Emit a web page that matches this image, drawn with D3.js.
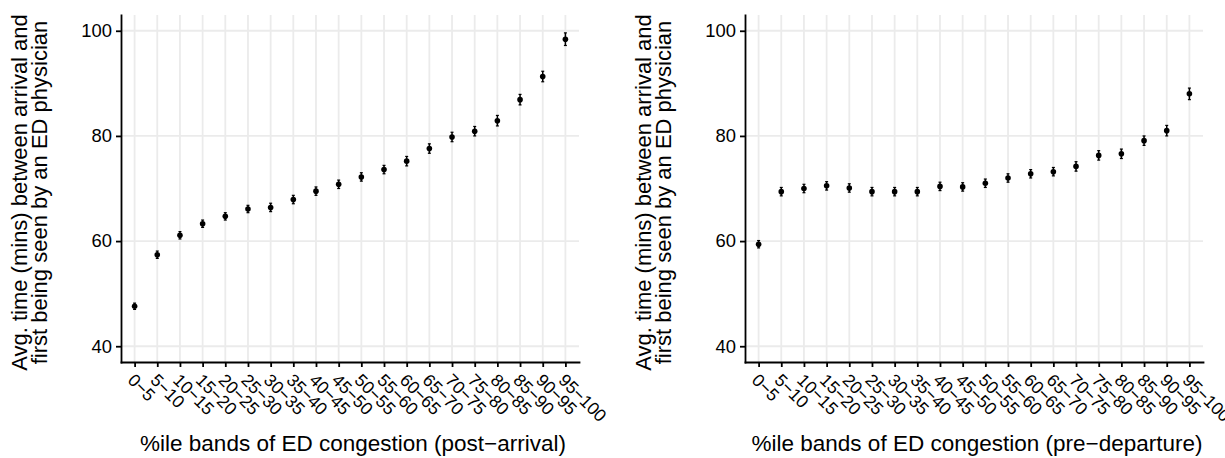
<!DOCTYPE html>
<html lang="en">
<head>
  <meta charset="UTF-8">
  <title>ED congestion and time to physician</title>
  <style>
    body {
      margin: 0;
      padding: 0;
      background: #ffffff;
      font-family: "Liberation Sans", Arial, sans-serif;
    }
    .grid line {
      stroke: #ebebeb;
      stroke-width: 1.8;
    }
    .axis path, .axis line {
      stroke: #000;
      stroke-width: 1.8;
    }
    .axis text {
      fill: #000;
      font-family: "Liberation Sans", Arial, sans-serif;
    }
    .title {
      fill: #000;
    }
  </style>
</head>
<body>
  <div id="chart"></div>
  <script src="https://d3js.org/d3.v7.min.js"></script>
  <script>
    const bands = ["0\u22125", "5\u221210", "10\u221215", "15\u221220", "20\u221225", "25\u221230",
      "30\u221235", "35\u221240", "40\u221245", "45\u221250", "50\u221255", "55\u221260",
      "60\u221265", "65\u221270", "70\u221275", "75\u221280", "80\u221285", "85\u221290",
      "90\u221295", "95\u2212100"];

    // mean wait (mins) and half-width of the interval, per band
    const postArrival = [47.6, 57.4, 61.1, 63.3, 64.7, 66.1, 66.4, 67.9, 69.5, 70.8,
      72.2, 73.6, 75.2, 77.6, 79.8, 80.9, 82.9, 86.9, 91.3, 98.4];
    const postArrivalErr = [0.6, 0.7, 0.7, 0.7, 0.7, 0.7, 0.8, 0.8, 0.8, 0.8,
      0.8, 0.8, 0.9, 0.9, 0.9, 0.9, 1.0, 1.0, 1.0, 1.2];
    const preDeparture = [59.4, 69.4, 70.0, 70.5, 70.1, 69.4, 69.4, 69.4, 70.4, 70.3,
      71.0, 72.0, 72.8, 73.2, 74.2, 76.3, 76.6, 79.1, 81.0, 88.0];
    const preDepartureErr = [0.7, 0.8, 0.8, 0.8, 0.8, 0.8, 0.8, 0.8, 0.8, 0.8,
      0.8, 0.8, 0.8, 0.8, 0.9, 0.9, 0.9, 0.9, 1.0, 1.1];

    const yTicks = [40, 60, 80, 100];
    const yTitle = ["Avg. time (mins) between arrival and", "first being seen by an ED physician"];

    const width = 1225;
    const height = 458;

    const panels = [
      { left: 121, right: 579, values: postArrival, errs: postArrivalErr,
        xTitle: "%ile bands of ED congestion (post\u2212arrival)" },
      { left: 745, right: 1203, values: preDeparture, errs: preDepartureErr,
        xTitle: "%ile bands of ED congestion (pre\u2212departure)" }
    ];

    const plotTop = 15, plotBottom = 362;

    const svg = d3.select("#chart")
      .append("svg")
      .attr("width", width)
      .attr("height", height);

    const y = d3.scaleLinear().domain([37, 103]).range([plotBottom, plotTop]);

    panels.forEach(p => {
      const x = d3.scalePoint().domain(bands).range([p.left, p.right]).padding(0.6);
      const g = svg.append("g");

      // grid
      const grid = g.append("g").attr("class", "grid");
      grid.selectAll(".gx")
        .data(bands)
        .enter().append("line")
        .attr("x1", d => x(d)).attr("x2", d => x(d))
        .attr("y1", plotTop).attr("y2", plotBottom);
      grid.selectAll(".gy")
        .data(yTicks)
        .enter().append("line")
        .attr("x1", p.left).attr("x2", p.right)
        .attr("y1", d => y(d)).attr("y2", d => y(d));

      // error bars + points
      const pts = p.values.map((v, i) => ({ band: bands[i], v: v, e: p.errs[i] }));
      const marks = g.append("g");
      marks.selectAll(".eb")
        .data(pts)
        .enter().append("line")
        .attr("x1", d => x(d.band)).attr("x2", d => x(d.band))
        .attr("y1", d => y(d.v - d.e)).attr("y2", d => y(d.v + d.e))
        .attr("stroke", "#000").attr("stroke-width", 1.5);
      marks.selectAll(".capT")
        .data(pts)
        .enter().append("line")
        .attr("x1", d => x(d.band) - 1.5).attr("x2", d => x(d.band) + 1.5)
        .attr("y1", d => y(d.v + d.e)).attr("y2", d => y(d.v + d.e))
        .attr("stroke", "#000").attr("stroke-width", 1.2);
      marks.selectAll(".capB")
        .data(pts)
        .enter().append("line")
        .attr("x1", d => x(d.band) - 1.5).attr("x2", d => x(d.band) + 1.5)
        .attr("y1", d => y(d.v - d.e)).attr("y2", d => y(d.v - d.e))
        .attr("stroke", "#000").attr("stroke-width", 1.2);
      marks.selectAll("circle")
        .data(pts)
        .enter().append("circle")
        .attr("cx", d => x(d.band))
        .attr("cy", d => y(d.v))
        .attr("r", 2.8)
        .attr("fill", "#000");

      // axes
      const ay = g.append("g")
        .attr("class", "axis")
        .attr("transform", `translate(${p.left},0)`)
        .call(d3.axisLeft(y).tickValues(yTicks).tickSize(5).tickSizeOuter(0).tickPadding(4));
      ay.selectAll("text").style("font-size", "18.4px");

      const ax = g.append("g")
        .attr("class", "axis")
        .attr("transform", `translate(0,${plotBottom})`)
        .call(d3.axisBottom(x).tickSize(5).tickSizeOuter(0));
      ax.selectAll("text")
        .style("font-size", "17.5px")
        .attr("text-anchor", "start")
        .attr("y", 0)
        .attr("dy", "0.35em")
        .attr("transform", "translate(-4,15) rotate(45)");

      ay.select(".domain").attr("stroke-linecap", "square");
      ax.select(".domain").attr("stroke-linecap", "square");

      // titles
      g.append("text")
        .attr("class", "title")
        .style("font-size", "22.5px")
        .attr("x", (p.left + p.right) / 2 + 3)
        .attr("y", 451)
        .attr("text-anchor", "middle")
        .text(p.xTitle);

      const yt = g.append("text")
        .attr("class", "title")
        .style("font-size", "22px")
        .attr("text-anchor", "middle")
        .attr("transform", `translate(${p.left - 94},${(plotTop + plotBottom) / 2 + 4}) rotate(-90)`);
      yt.append("tspan").attr("x", 0).attr("y", 0).text(yTitle[0]);
      yt.append("tspan").attr("x", 0).attr("y", 20).text(yTitle[1]);
    });
  </script>
</body>
</html>
